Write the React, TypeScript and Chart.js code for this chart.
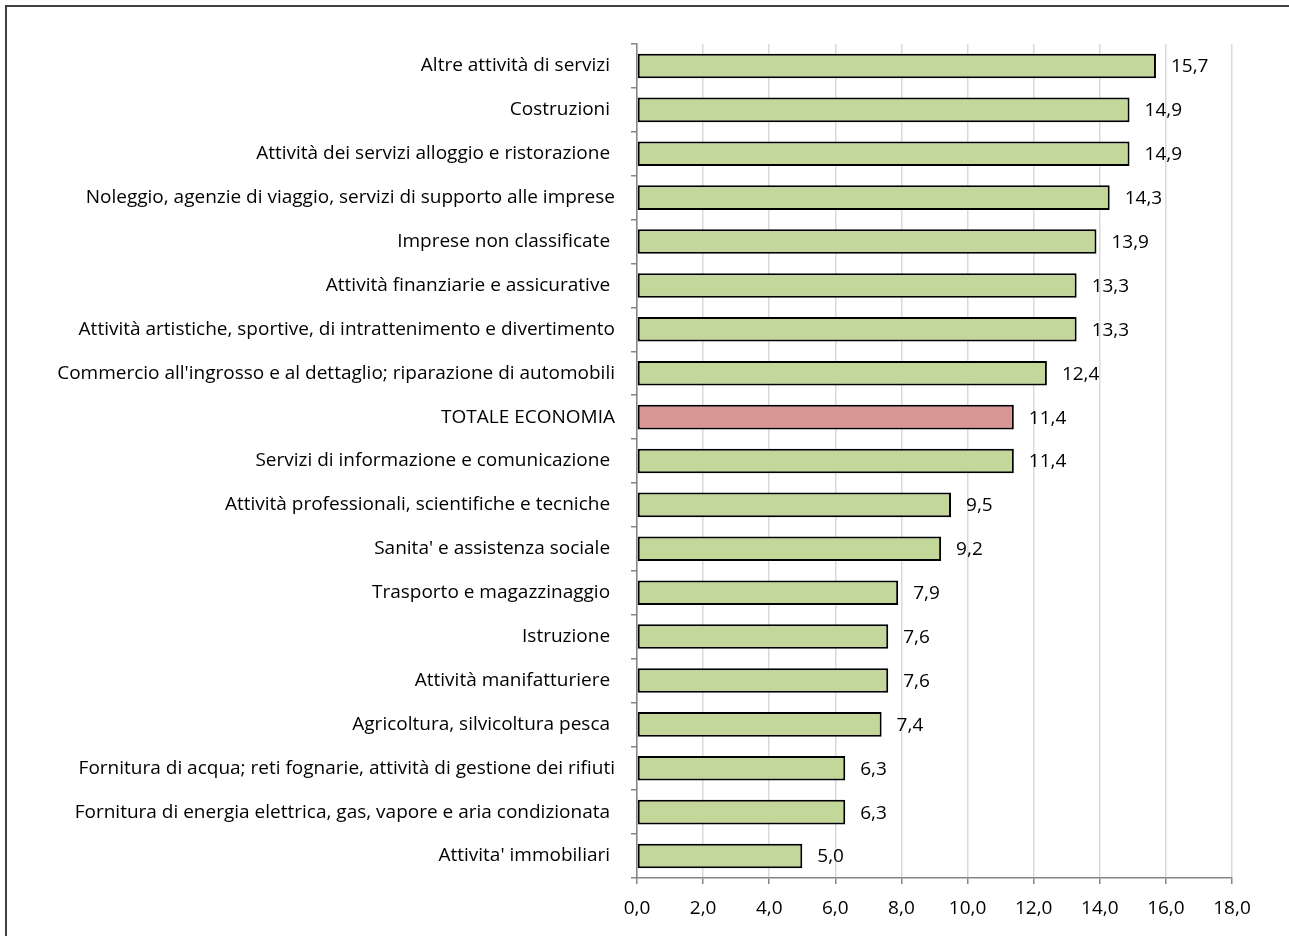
import React, { useEffect, useRef } from "react";
import { Chart, registerables } from "chart.js";

Chart.register(...registerables);

const categories = [
  "Altre attività di servizi ",
  "Costruzioni ",
  "Attività dei servizi alloggio e ristorazione ",
  "Noleggio, agenzie di viaggio, servizi di supporto alle imprese",
  "Imprese non classificate ",
  "Attività finanziarie e assicurative ",
  "Attività artistiche, sportive, di intrattenimento e divertimento",
  "Commercio all'ingrosso e al dettaglio; riparazione di automobili",
  "TOTALE ECONOMIA",
  "Servizi di informazione e comunicazione ",
  "Attività professionali, scientifiche e tecniche ",
  "Sanita' e assistenza sociale ",
  "Trasporto e magazzinaggio ",
  "Istruzione ",
  "Attività manifatturiere ",
  "Agricoltura, silvicoltura pesca ",
  "Fornitura di acqua; reti fognarie, attività di gestione dei rifiuti",
  "Fornitura di energia elettrica, gas, vapore e aria condizionata ",
  "Attivita' immobiliari ",
];

const values = [15.7, 14.9, 14.9, 14.3, 13.9, 13.3, 13.3, 12.4, 11.4, 11.4, 9.5, 9.2, 7.9, 7.6, 7.6, 7.4, 6.3, 6.3, 5.0];

const highlighted = "TOTALE ECONOMIA";

const xMin = 0;
const xMax = 18;
const xStep = 2;

const FONT = "'Open Sans', Lato, sans-serif";
const FONT_SIZE = 19;
const fmt = (v: number) => v.toFixed(1).replace(".", ",");

// Writes each bar's value just past its end
const valueLabels = {
  id: "valueLabels",
  afterDatasetsDraw(chart: any) {
    const { ctx } = chart;
    const meta = chart.getDatasetMeta(0);
    ctx.save();
    ctx.font = `${FONT_SIZE}px ${FONT}`;
    ctx.fillStyle = "#000";
    ctx.textAlign = "left";
    ctx.textBaseline = "middle";
    meta.data.forEach((bar: any, i: number) => {
      ctx.fillText(fmt(values[i]), bar.x + 15, bar.y + 1);
    });
    ctx.restore();
  },
};

export default function App() {
  const ref = useRef<HTMLCanvasElement>(null);

  useEffect(() => {
    if (!ref.current) return;
    const chart = new Chart(ref.current, {
      type: "bar",
      data: {
        labels: categories,
        datasets: [
          {
            data: values,
            backgroundColor: categories.map((c) => (c === highlighted ? "#DA9694" : "#C4D79B")),
            borderColor: "#000",
            borderWidth: 2,
            borderSkipped: false,
            barPercentage: 0.56,
            categoryPercentage: 1,
          },
        ],
      },
      options: {
        indexAxis: "y",
        responsive: false,
        animation: false,
        layout: { padding: { top: 44, right: 57, bottom: 0, left: 0 } },
        plugins: {
          legend: { display: false },
          tooltip: { enabled: false },
        },
        scales: {
          x: {
            min: xMin,
            max: xMax,
            ticks: {
              stepSize: xStep,
              padding: 13,
              color: "#000",
              font: { family: FONT, size: FONT_SIZE },
              callback: (v: any) => fmt(Number(v)),
            },
            grid: {
              color: "#D9D9D9",
              lineWidth: 1.5,
              tickColor: "#868686",
              tickLength: 6,
            },
            border: { color: "#868686", width: 1.5 },
            afterFit: (scale: any) => {
              scale.height = 58;
            },
          },
          y: {
            ticks: {
              padding: 16,
              color: "#000",
              font: { family: FONT, size: FONT_SIZE },
              autoSkip: false,
            },
            grid: {
              drawOnChartArea: false,
              tickColor: "#868686",
              tickLength: 6,
              lineWidth: 1.5,
            },
            border: { color: "#868686", width: 1.5 },
            afterFit: (scale: any) => {
              scale.width = 637;
            },
          },
        },
      },
      plugins: [valueLabels],
    });
    return () => chart.destroy();
  }, []);

  return (
    <div style={{ position: "fixed", left: 0, top: 0, width: 1289, height: 936, background: "#fff", overflow: "hidden" }}>
      <canvas ref={ref} width={1289} height={936} style={{ position: "absolute", left: 0, top: 0 }} />
      <div
        style={{
          position: "absolute",
          left: 5,
          top: 5,
          width: 1400,
          height: 1000,
          border: "2px solid #404040",
          boxSizing: "border-box",
          pointerEvents: "none",
        }}
      />
    </div>
  );
}
